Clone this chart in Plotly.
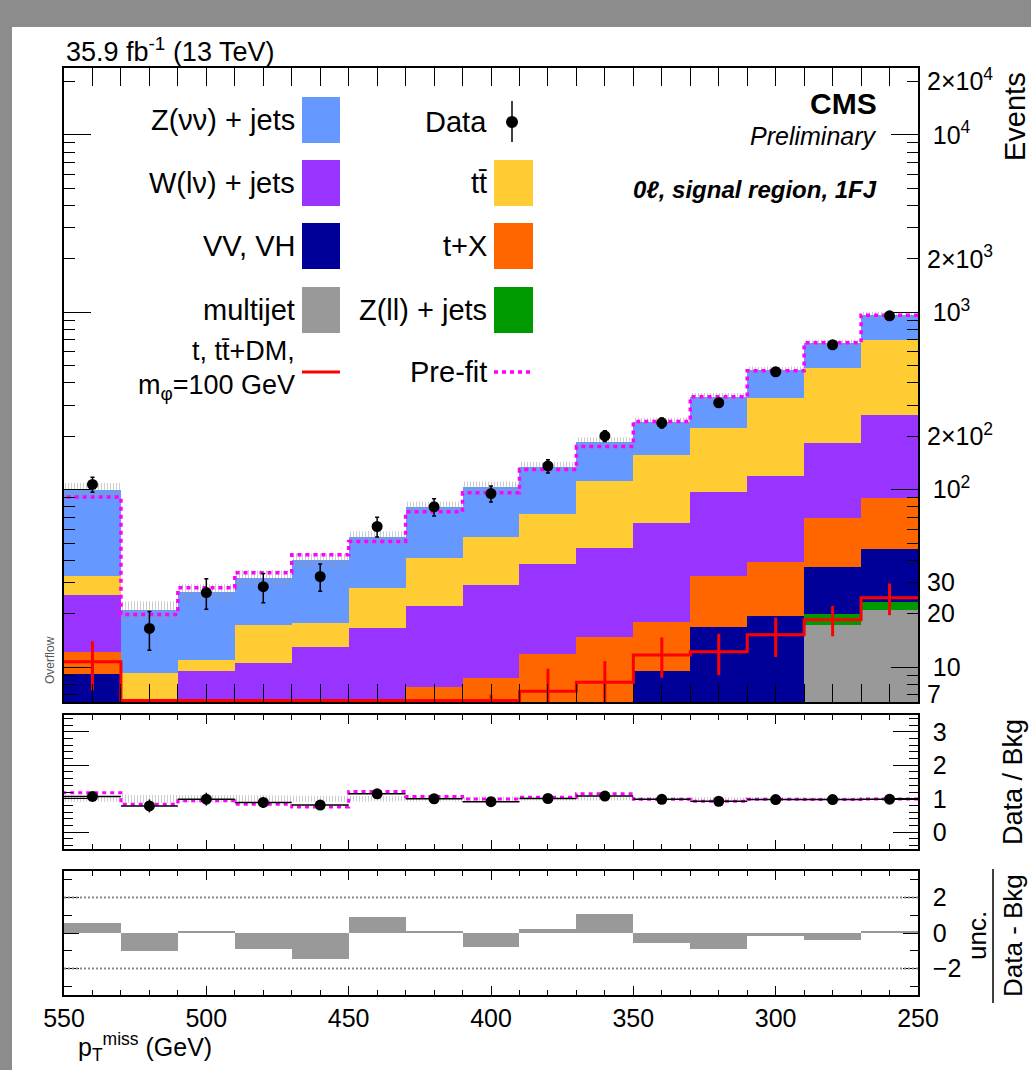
import numpy as np
import plotly.graph_objects as go

# ---------------- data (bins of pTmiss, ascending: 250-270 ... 530-550 overflow) ----------------
edges = list(range(250, 551, 20))
data = [955, 656, 462, 309, 238, 201, 136, 95, 80, 62, 32.4, 28.4, 26.3, 16.5, 107]
multijet = [21, 17.3, 0.5, 0.3, 0.3, 0.2, 0.2, 0.2, 0.2, 0.2, 0.2, 0.2, 0.2, 0.2, 0.3]
zll = [2.3, 2.5, 0.5, 0.5, 0.5, 0.3, 0.3, 0.3, 0.3, 0.2, 0.2, 0.2, 0.2, 0.2, 0.3]
vv_vh = [23.2, 17, 18.5, 16, 8.7, 4, 3.5, 2.5, 2, 1.5, 1.2, 1, 0.9, 0.6, 8.5]
t_x = [43.5, 32.7, 19.8, 15.6, 8.5, 10.2, 7.9, 5.7, 5.2, 4, 3.4, 2.6, 2.2, 1.5, 3.1]
wjets = [175, 114.5, 80.7, 65, 47, 32.3, 26.1, 20.3, 14.3, 10.8, 8, 6.6, 6, 3.5, 13.4]
ttbar = [435, 302, 210, 125.5, 92, 65, 35, 25, 19, 11.3, 4.8, 6.7, 1.5, 3.3, 7]
znn = [268, 187, 144, 111, 85, 74, 62, 50, 39, 26, 22.2, 14.6, 15.6, 11.7, 67.4]
prefit = [962, 673, 468, 334, 242, 175, 130, 96, 75, 51, 43, 34, 28, 19.8, 91]
rel_unc = [0.04, 0.04, 0.04, 0.05, 0.05, 0.06, 0.06, 0.07, 0.07, 0.08, 0.09, 0.1, 0.1, 0.12, 0.09]
signal = [24.6, 18.5, 15.2, 12.2, 11.7, 8.2, 7.3, 5, 4, 3, 2.5, 2, 1.5, 1.2, 10.7]
signal_err = [5, 3.6, 3.8, 3.2, 3, 2.6, 2.5, 2, 2, 1.5, 1.5, 1.3, 1.2, 1, 3.3]
pulls = [0.13, -0.39, -0.15, -0.9, -0.58, 1.07, 0.22, -0.8, 0.13, 0.88, -1.46, -0.9, 0.13, -1.03, 0.54]

x_ticks = [250, 300, 350, 400, 450, 500, 550]
y_decades = [10, 100, 1000, 10000]
y_decade_text = ["10", "10<sup>2</sup>", "10<sup>3</sup>", "10<sup>4</sup>"]
y_extra = [7, 20, 30, 200, 2000, 20000]
y_extra_text = ["7", "20", "30", "2×10<sup>2</sup>", "2×10<sup>3</sup>", "2×10<sup>4</sup>"]

# ---------------- derived ----------------
centers = [(a + b) / 2 for a, b in zip(edges[:-1], edges[1:])]
bw = edges[1] - edges[0]
stack = [multijet, zll, vv_vh, t_x, wjets, ttbar, znn]
colors = ["#999999", "#009900", "#000099", "#ff6600", "#9933ff", "#ffcc33", "#6699ff"]
total = np.sum(np.array(stack), axis=0)
data_a = np.array(data, float)
data_err = np.sqrt(data_a)

YMIN, YMAX = 0.803, 4.377
FONT = "Liberation Sans, Arial, Helvetica, sans-serif"

# pixel geometry of the plotting box
L, R, T, B = 64, 918, 68, 995
def px(x):
    return (x - L) / (R - L)
def py(y):
    return (B - y) / (B - T)

def step_xy(vals):
    xs = list(edges)
    ys = list(vals) + [vals[-1]]
    return xs, ys

def band_xy(lo, hi):
    xs, ys = [], []
    for i in range(len(centers)):
        xs += [edges[i], edges[i + 1]]
        ys += [hi[i], hi[i]]
    for i in reversed(range(len(centers))):
        xs += [edges[i + 1], edges[i]]
        ys += [lo[i], lo[i]]
    return xs, ys

fig = go.Figure()

# stacked backgrounds
for vals, c in zip(stack, colors):
    fig.add_trace(go.Bar(x=centers, y=vals, width=bw, marker=dict(color=c, line_width=0),
                         xaxis="x", yaxis="y", showlegend=False, hoverinfo="skip"))

# post-fit uncertainty band
bx, by = band_xy(total * (1 - np.array(rel_unc)), total * (1 + np.array(rel_unc)))
fig.add_trace(go.Scatter(x=bx, y=by, fill="toself", mode="lines", line=dict(width=0),
                         fillcolor="rgba(255,255,255,0)",
                         fillpattern=dict(shape="|", fgcolor="#9a9a9a", size=3, solidity=0.35),
                         xaxis="x", yaxis="y", showlegend=False, hoverinfo="skip"))

# pre-fit
sx, sy = step_xy(prefit)
fig.add_trace(go.Scatter(x=sx, y=sy, mode="lines", line=dict(color="#ff00ff", width=3.5, dash="4px,4px", shape="hv"),
                         xaxis="x", yaxis="y", showlegend=False, hoverinfo="skip"))

# signal (clamped to the frame bottom as in ROOT)
floor = 10 ** (YMIN + 0.008)
sig_draw = [max(v, floor) for v in signal]
sx, sy = step_xy(sig_draw)
fig.add_trace(go.Scatter(x=sx, y=sy, mode="lines", line=dict(color="#ff0000", width=3, shape="hv"),
                         xaxis="x", yaxis="y", showlegend=False, hoverinfo="skip"))
fig.add_trace(go.Scatter(x=centers, y=signal, mode="markers", marker=dict(size=1, color="rgba(0,0,0,0)"),
                         error_y=dict(type="data", array=signal_err, color="#ff0000", thickness=3, width=0),
                         xaxis="x", yaxis="y", showlegend=False, hoverinfo="skip"))

# data
fig.add_trace(go.Scatter(x=centers, y=data, mode="markers", marker=dict(color="black", size=11),
                         error_y=dict(type="data", array=data_err, color="black", thickness=1.5, width=2),
                         xaxis="x", yaxis="y", showlegend=False, hoverinfo="skip"))

# invisible trace to activate overlay axis
fig.add_trace(go.Scatter(x=[400], y=[100], mode="markers", marker=dict(opacity=0),
                         xaxis="x", yaxis="y4", showlegend=False, hoverinfo="skip"))

# ---------------- ratio panel ----------------
ratio = data_a / total
ratio_err = data_err / total
ratio_pre = data_a / np.array(prefit)
bx, by = band_xy(1 - np.array(rel_unc), 1 + np.array(rel_unc))
fig.add_trace(go.Scatter(x=bx, y=by, fill="toself", mode="lines", line=dict(width=0),
                         fillcolor="rgba(255,255,255,0)",
                         fillpattern=dict(shape="|", fgcolor="#9a9a9a", size=3, solidity=0.35),
                         xaxis="x2", yaxis="y2", showlegend=False, hoverinfo="skip"))
sx, sy = step_xy(list(ratio_pre))
fig.add_trace(go.Scatter(x=sx, y=sy, mode="lines", line=dict(color="#ff00ff", width=3, dash="4px,4px", shape="hv"),
                         xaxis="x2", yaxis="y2", showlegend=False, hoverinfo="skip"))
fig.add_trace(go.Scatter(x=centers, y=ratio, mode="markers", marker=dict(color="black", size=11),
                         error_y=dict(type="data", array=ratio_err, color="black", thickness=1.5, width=0),
                         error_x=dict(type="constant", value=bw / 2, color="black", thickness=1.5, width=0),
                         xaxis="x2", yaxis="y2", showlegend=False, hoverinfo="skip"))

# ---------------- pull panel ----------------
fig.add_trace(go.Bar(x=centers, y=pulls, width=bw, marker=dict(color="#999999", line_width=0),
                     xaxis="x3", yaxis="y3", showlegend=False, hoverinfo="skip"))

# ---------------- axes ----------------
tickfont = dict(family=FONT, size=25, color="black")
def xax(showlabels, ticklen, minorlen):
    return dict(range=[550, 250], tickvals=x_ticks, ticks="inside", ticklen=ticklen, tickwidth=1.2,
                tickcolor="black", showline=True, linecolor="black", linewidth=1.6, mirror="allticks",
                showgrid=False, zeroline=False, showticklabels=showlabels, tickfont=tickfont,
                minor=dict(dtick=10, ticks="inside", ticklen=minorlen, tickcolor="black", tickwidth=1),
                ticklabelstandoff=0)

d_main = [py(702), 1.0]
d_ratio = [py(849), py(715)]
d_pull = [0.0, py(871)]

minor_log = [m * 10 ** k for k in range(0, 5) for m in range(2, 10)]

fig.update_layout(
    width=1031, height=1070,
    margin=dict(l=L, r=1031 - R, t=T, b=1070 - B),
    paper_bgcolor="#8c8c8c", plot_bgcolor="white",
    barmode="relative", bargap=0,
    font=dict(family=FONT, color="black"),
    xaxis=dict(anchor="y", **xax(False, 18, 9)),
    xaxis2=dict(anchor="y2", **xax(False, 9, 5)),
    xaxis3=dict(anchor="y3", **xax(True, 9, 5)),
    yaxis=dict(domain=d_main, anchor="x", type="log", range=[YMIN, YMAX], side="right",
               tickvals=y_decades, ticktext=y_decade_text, ticks="inside", ticklen=27, tickwidth=1.2,
               tickcolor="black", showline=True, linecolor="black", linewidth=1.6, mirror="allticks",
               showgrid=False, zeroline=False, tickfont=tickfont, ticklabelstandoff=8,
               minor=dict(tickvals=minor_log, ticks="inside", ticklen=11, tickcolor="black", tickwidth=1)),
    yaxis4=dict(overlaying="y", anchor="x", type="log", range=[YMIN, YMAX], side="right",
                tickvals=y_extra, ticktext=y_extra_text, ticks="", showgrid=False, zeroline=False,
                showline=False, tickfont=tickfont, ticklabelstandoff=8),
    yaxis2=dict(domain=d_ratio, anchor="x2", range=[-0.5, 3.5], side="right",
                tickvals=[0, 1, 2, 3], ticks="inside", ticklen=25, tickwidth=1.2, tickcolor="black",
                showline=True, linecolor="black", linewidth=1.6, mirror="allticks", showgrid=False,
                zeroline=False, tickfont=tickfont, ticklabelstandoff=8,
                minor=dict(dtick=0.2, ticks="inside", ticklen=9, tickcolor="black", tickwidth=1)),
    yaxis3=dict(domain=d_pull, anchor="x3", range=[-3.5, 3.5], side="right",
                tickvals=[-2, 0, 2], ticktext=["−2", "0", "2"], ticks="inside", ticklen=15, tickwidth=1.2,
                tickcolor="black", showline=True, linecolor="black", linewidth=1.6, mirror="allticks",
                showgrid=False, zeroline=False, tickfont=tickfont, ticklabelstandoff=8,
                minor=dict(dtick=1, ticks="inside", ticklen=8, tickcolor="black", tickwidth=1)),
)

shapes = []
# white page on top of the grey slide background
shapes.append(dict(type="rect", xref="paper", yref="paper", x0=px(12), x1=px(1040), y0=py(1080), y1=py(27),
                   fillcolor="white", line_width=0, layer="below"))
# dotted lines at +-2 in pull panel
for v in (2, -2):
    shapes.append(dict(type="line", xref="x3 domain", yref="y3", x0=0, x1=1, y0=v, y1=v,
                       line=dict(color="#8a8a8a", width=2, dash="2px,2px")))

# legend swatches
left_items = [("Z(νν) + jets", "#6699ff", 120), ("W(lν) + jets", "#9933ff", 183),
              ("VV, VH", "#000099", 246), ("multijet", "#999999", 310)]
right_items = [("tt̄", "#ffcc33", 183), ("t+X", "#ff6600", 246), ("Z(ll) + jets", "#009900", 310)]
for _, c, yc in left_items:
    shapes.append(dict(type="rect", xref="paper", yref="paper", x0=px(302), x1=px(340),
                       y0=py(yc + 23), y1=py(yc - 23), fillcolor=c, line_width=0))
for _, c, yc in right_items:
    shapes.append(dict(type="rect", xref="paper", yref="paper", x0=px(494), x1=px(533),
                       y0=py(yc + 23), y1=py(yc - 23), fillcolor=c, line_width=0))
# data legend marker
shapes.append(dict(type="line", xref="paper", yref="paper", x0=px(512), x1=px(512), y0=py(142), y1=py(101),
                   line=dict(color="black", width=1.5)))
shapes.append(dict(type="circle", xref="paper", yref="paper", x0=px(506), x1=px(518), y0=py(128), y1=py(116),
                   fillcolor="black", line_width=0))
# signal and pre-fit legend lines
shapes.append(dict(type="line", xref="paper", yref="paper", x0=px(302), x1=px(340), y0=py(372), y1=py(372),
                   line=dict(color="#ff0000", width=3)))
shapes.append(dict(type="line", xref="paper", yref="paper", x0=px(494), x1=px(532), y0=py(372), y1=py(372),
                   line=dict(color="#ff00ff", width=3.5, dash="4px,4px")))
# fraction bar for pull label
shapes.append(dict(type="line", xref="paper", yref="paper", x0=px(993), x1=px(993), y0=py(1003), y1=py(869),
                   line=dict(color="black", width=1.5)))

ann = []
def A(text, x, y, size, xanchor="center", yanchor="middle", angle=0, color="black"):
    ann.append(dict(text=text, x=px(x), y=py(y), xref="paper", yref="paper", showarrow=False,
                    xanchor=xanchor, yanchor=yanchor, textangle=angle,
                    font=dict(family=FONT, size=size, color=color)))

A("35.9 fb<sup>-1</sup> (13 TeV)", 64, 50, 27, xanchor="left")
A("<b>CMS</b>", 879, 104, 30, xanchor="right")
A("<i>Preliminary</i>", 879, 136, 25, xanchor="right")
A("<b><i>0ℓ, signal region, 1FJ</i></b>", 879, 190, 24, xanchor="right")
for t, _, yc in left_items:
    A(t, 297, yc, 29, xanchor="right")
for t, _, yc in right_items:
    A(t, 489, yc, 29, xanchor="right")
A("Data", 489, 122, 29, xanchor="right")
A("Pre-fit", 489, 372, 29, xanchor="right")
A("t, tt̄+DM,", 297, 351, 27, xanchor="right")
A("m<sub>φ</sub>=100 GeV", 297, 387, 27, xanchor="right")
A("Events", 1015, 117, 29, angle=-90)
A("Overflow", 50, 660, 12, angle=-90, color="#555555")
A("Data / Bkg", 1013, 782, 27, angle=-90)
A("Data - Bkg", 1013, 936, 26, angle=-90)
A("unc.", 977, 936, 26, angle=-90)
A("p<sub>T</sub><sup>miss</sup> (GeV)", 214, 1047, 25, xanchor="right")

fig.update_layout(shapes=shapes, annotations=ann)
fig.write_html("out.html", config={"displayModeBar": False},
               post_script="document.body.style.margin='0';document.body.style.padding='0';document.body.style.overflow='hidden';")
